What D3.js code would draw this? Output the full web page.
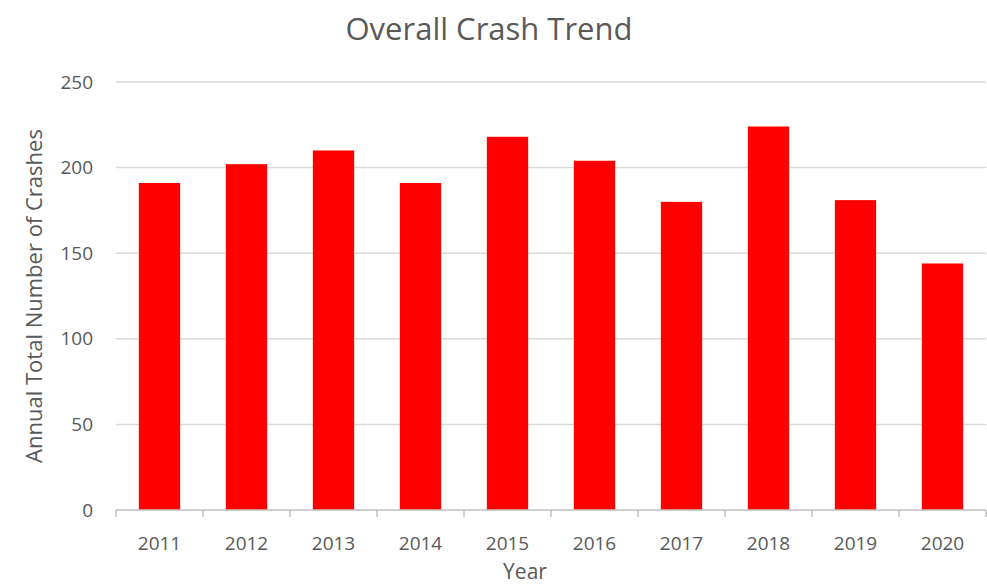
<!DOCTYPE html>
<html>
<head>
<meta charset="utf-8">
<script src="https://cdn.jsdelivr.net/npm/d3@7"></script>
<style>
  html, body { margin: 0; padding: 0; background: #fff; }
  svg { display: block; font-family: "Open Sans", "Noto Sans", sans-serif; }
</style>
</head>
<body>
<svg id="chart" width="987" height="585"></svg>
<script>
// Annual crash totals
const years = ["2011", "2012", "2013", "2014", "2015", "2016", "2017", "2018", "2019", "2020"];
const crashes = [191, 202, 210, 191, 218, 204, 180, 224, 181, 144];
const yTicks = [0, 50, 100, 150, 200, 250];

const svg = d3.select("#chart");
const plotLeft = 116, plotRight = 986, plotTop = 82, plotBottom = 510;
const textColor = "#595959";

const x = d3.scaleBand().domain(years).range([plotLeft, plotRight])
  .paddingInner(0.525).paddingOuter(0.2625);
const xEdges = d3.scaleBand().domain(years).range([plotLeft, plotRight]).padding(0);
const y = d3.scaleLinear().domain([0, 250]).range([plotBottom, plotTop]);

// Horizontal gridlines
svg.append("g").selectAll("line").data(yTicks.filter(d => d > 0)).join("line")
  .attr("x1", plotLeft).attr("x2", plotRight)
  .attr("y1", d => y(d)).attr("y2", d => y(d))
  .attr("stroke", "#d9d9d9").attr("stroke-width", 1.5);

// Y axis labels
const yAxis = d3.axisLeft(y).tickValues(yTicks).tickSize(0).tickPadding(23);
const gy = svg.append("g").attr("transform", `translate(${plotLeft},0)`).call(yAxis);
gy.select(".domain").remove();
gy.selectAll("text").attr("fill", textColor).style("font-size", "19px")
  .style("font-family", "'Open Sans', 'Noto Sans', sans-serif");

// Bars
svg.append("g").selectAll("rect").data(years).join("rect")
  .attr("x", d => x(d))
  .attr("width", x.bandwidth())
  .attr("y", (d, i) => y(crashes[i]))
  .attr("height", (d, i) => y(0) - y(crashes[i]))
  .attr("fill", "#ff0000");

// X axis line, category boundary ticks and labels
const gx = svg.append("g").attr("transform", `translate(0,${plotBottom})`);
gx.append("line").attr("x1", plotLeft).attr("x2", plotRight)
  .attr("stroke", "#bfbfbf").attr("stroke-width", 1.5);
const edges = years.map(d => xEdges(d)).concat([plotRight]);
gx.selectAll("line.edge").data(edges).join("line").attr("class", "edge")
  .attr("x1", d => d).attr("x2", d => d).attr("y1", 0).attr("y2", 7)
  .attr("stroke", "#bfbfbf").attr("stroke-width", 1.5);
gx.selectAll("text").data(years).join("text")
  .attr("x", d => x(d) + x.bandwidth() / 2)
  .attr("y", 40)
  .attr("text-anchor", "middle")
  .attr("fill", textColor).style("font-size", "19px")
  .text(d => d);

// Titles
svg.append("text").attr("x", 489).attr("y", 40).attr("text-anchor", "middle")
  .attr("fill", textColor).style("font-size", "31px").text("Overall Crash Trend");
svg.append("text").attr("x", 525).attr("y", 579).attr("text-anchor", "middle")
  .attr("fill", textColor).style("font-size", "21px").text("Year");
svg.append("text")
  .attr("transform", `translate(42,${(plotTop + plotBottom) / 2}) rotate(-90)`)
  .attr("text-anchor", "middle")
  .attr("fill", textColor).style("font-size", "22px")
  .text("Annual Total Number of Crashes");
</script>
</body>
</html>
